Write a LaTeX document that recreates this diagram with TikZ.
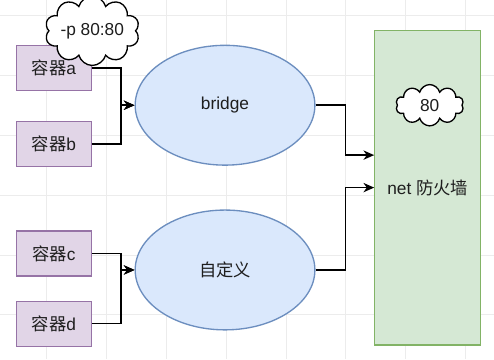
\documentclass[tikz,border=0pt]{standalone}
\usepackage{fontspec}
\setmainfont{Liberation Sans}
\newfontfamily\cjk{Noto Sans CJK SC}
\usetikzlibrary{positioning,shapes.geometric,shapes.symbols,arrows.meta}
\definecolor{boxfill}{HTML}{E1D5E7}
\definecolor{boxline}{HTML}{9673A6}
\definecolor{netfill}{HTML}{DAE8FC}
\definecolor{netline}{HTML}{6C8EBF}
\definecolor{wallfill}{HTML}{D5E8D4}
\definecolor{wallline}{HTML}{82B366}
\definecolor{gridgray}{RGB}{236,236,236}
\definecolor{ink}{RGB}{30,30,30}

\begin{document}
\begin{tikzpicture}[
        x=0.75pt,y=-0.75pt,
        font=\fontsize{13}{15}\selectfont,text=ink,
        container/.style={draw=boxline,fill=boxfill,line width=1pt,
          minimum width=56.25pt,minimum height=33.75pt,inner sep=0pt},
        netw/.style={ellipse,draw=netline,fill=netfill,line width=1pt,
          minimum width=135pt,minimum height=90pt,inner sep=0pt},
        tag/.style={cloud,cloud puffs=10,cloud ignores aspect,draw=black,fill=white,
          line width=1pt,inner sep=0pt},
        arr/.style={-{Stealth[length=8pt,width=7pt,inset=2.5pt]},line width=1.1pt,draw=black}
      ]
      % background grid
      \fill[white] (0,0) rectangle (494,359);
      \foreach \gx in {46,106,...,466} \draw[gridgray,line width=0.6pt] (\gx,0) -- (\gx,359);
      \foreach \gy in {15,75,...,315} \draw[gridgray,line width=0.6pt] (0,\gy) -- (494,\gy);
      \useasboundingbox (0,0) rectangle (494,359);

      \node[container] (ca) at (53.5,67.5) {{\cjk 容器}a};
      \node[container,below=22.5pt of ca] (cb) {{\cjk 容器}b};
      \node[container] (cc) at (53.5,253.5) {{\cjk 容器}c};
      \node[container,below=18pt of cc] (cd) {{\cjk 容器}d};

      \node[netw] (bridge) at (225,105) {bridge};
      \node[netw] (custom) at (225,270) {\cjk 自定义};

      \node[draw=wallline,fill=wallfill,line width=1pt,minimum width=79.5pt,
        minimum height=236.25pt,inner sep=0pt] (wall) at (428,187.5) {net {\cjk 防火墙}};

      \node[tag,minimum width=71pt,minimum height=52pt] (port) at (92,30.5) {-p 80:80};
      \node[tag,minimum width=51pt,minimum height=31pt] (open) at (430,105) {80};

      \draw[arr] (ca.east) -- ++(29,0) |- (bridge.west);
      \draw[arr] (cb.east) -- ++(29,0) |- (bridge.west);
      \draw[arr] (cc.east) -- ++(29,0) |- (custom.west);
      \draw[arr] (cd.east) -- ++(29,0) |- (custom.west);
      \draw[arr] (bridge.east) -- ++(30,0) |- ([yshift=24.4pt]wall.west);
      \draw[arr] (custom.east) -- ++(30,0) |- (wall.west);
    \end{tikzpicture}
\end{document}
